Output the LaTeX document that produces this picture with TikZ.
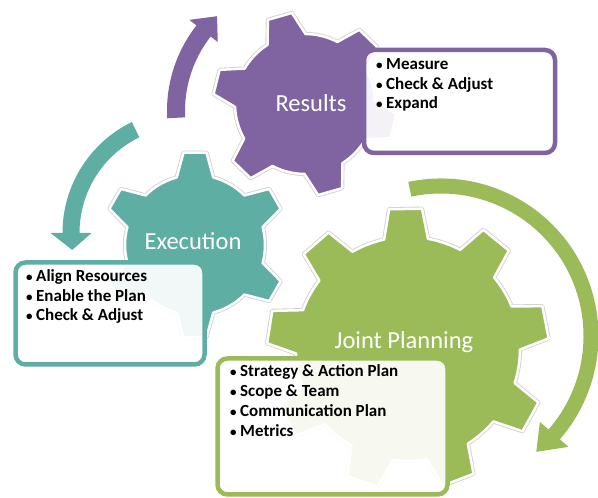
\documentclass[tikz,border=0pt]{standalone}
\usepackage{fontspec}
\setmainfont{Carlito}
\definecolor{purp}{RGB}{128,100,162}
\definecolor{tealg}{RGB}{94,174,164}
\definecolor{grn}{RGB}{155,187,89}
\newcommand{\bul}{\makebox[10pt][l]{\raisebox{0.4pt}{\fontsize{13}{13}\selectfont\textbullet}}}
\tikzset{
  gearline/.style={draw=white, line width=2.5pt, line join=round, preaction={draw=black!18, line width=4.2pt, line join=round}},
  infobox/.style={rectangle, rounded corners=10pt, line width=4.5pt, fill=white, fill opacity=0.92, text opacity=1, inner sep=0pt},
  gearlabel/.style={anchor=base, inner sep=0pt, text=white, font=\fontsize{24.5}{29}\selectfont},
  itemtxt/.style={anchor=base west, inner sep=0pt, font=\fontsize{17}{20}\selectfont\bfseries},
}
% #1 cx, #2 cy, #3 teeth, #4 inner r, #5 outer r, #6 offset, #7 tip half angle, #8 base half angle, #9 colour
\newcommand{\mygear}[9]{%
  \begin{scope}[shift={(#1,#2)}]
    \pgfmathsetmacro{\gstep}{360/#3}
    \pgfmathtruncatemacro{\glast}{#3-1}
    \path[gearline, fill=#9] ({#6-#8}:#4)
      \foreach \k in {0,...,\glast}{
        -- ({#6+\k*\gstep-#7}:#5) -- ({#6+\k*\gstep+#7}:#5) -- ({#6+\k*\gstep+#8}:#4)
        arc[start angle={#6+\k*\gstep+#8}, end angle={#6+(\k+1)*\gstep-#8}, radius=#4]
      } -- cycle;
  \end{scope}}
% #1 cx, #2 cy, #3 r, #4 width, #5 start angle, #6 end angle, #7 head width, #8 head length, #9 colour
\newcommand{\arcarrow}[9]{%
  \begin{scope}[shift={(#1,#2)}]
    \pgfmathsetmacro{\aro}{#3+#4/2}
    \pgfmathsetmacro{\ari}{#3-#4/2}
    \pgfmathsetmacro{\hro}{#3+#7/2}
    \pgfmathsetmacro{\hri}{#3-#7/2}
    \pgfmathsetmacro{\tipa}{#6+sign(#6-#5)*#8/#3*57.2958}
    \fill[#9] (#5:\aro) arc[start angle=#5, end angle=#6, radius=\aro]
      -- (#6:\hro) -- (\tipa:#3) -- (#6:\hri) -- (#6:\ari)
      arc[start angle=#6, end angle=#5, radius=\ari] -- cycle;
  \end{scope}}
\begin{document}
\begin{tikzpicture}[x=1pt,y=1pt]
\useasboundingbox[fill=white] (0,0) rectangle (598,498);

% curved arrows
\arcarrow{441}{162}{150}{15}{102}{-41}{38}{25}{grn}
\arcarrow{186}{265}{115}{17}{116}{180}{41}{17}{tealg}
\arcarrow{306}{387}{130}{18}{183}{142}{36}{20}{purp}

% gears
\mygear{408}{149}{9}{112}{141}{91}{6.7}{11.3}{grn}
\mygear{195}{253}{6}{70}{93}{30}{7.1}{15.1}{tealg}
\mygear{305}{394}{6}{70}{92}{46}{7.8}{16.4}{purp}

% gear labels
\node[gearlabel] (lres) at (311,386.5) {Results};
\node[gearlabel] (lexe) at (193,248) {Execution};
\node[gearlabel] (ljoi) at (404,149) {Joint Planning};

% boxes
\node[infobox, draw=purp, minimum width=191pt, minimum height=103pt] (bres) at (459.5,396.5) {};
\node[infobox, draw=tealg, minimum width=189pt, minimum height=102pt] (bexe) at (110,184.5) {};
\node[infobox, draw=grn, minimum width=230pt, minimum height=136pt] (bjoi) at (332.5,71.5) {};

% box texts
\node[itemtxt] (r1) at (376,428) {\bul Measure};
\node[itemtxt] (r2) at (376,408.5) {\bul Check \& Adjust};
\node[itemtxt] (r3) at (376,389) {\bul Expand};

\node[itemtxt] (e1) at (26,216) {\bul Align Resources};
\node[itemtxt] (e2) at (26,196.5) {\bul Enable the Plan};
\node[itemtxt] (e3) at (26,177) {\bul Check \& Adjust};

\node[itemtxt] (j1) at (230,121) {\bul Strategy \& Action Plan};
\node[itemtxt] (j2) at (230,101) {\bul Scope \& Team};
\node[itemtxt] (j3) at (230,81) {\bul Communication Plan};
\node[itemtxt] (j4) at (230,61) {\bul Metrics};
\end{tikzpicture}
\end{document}
